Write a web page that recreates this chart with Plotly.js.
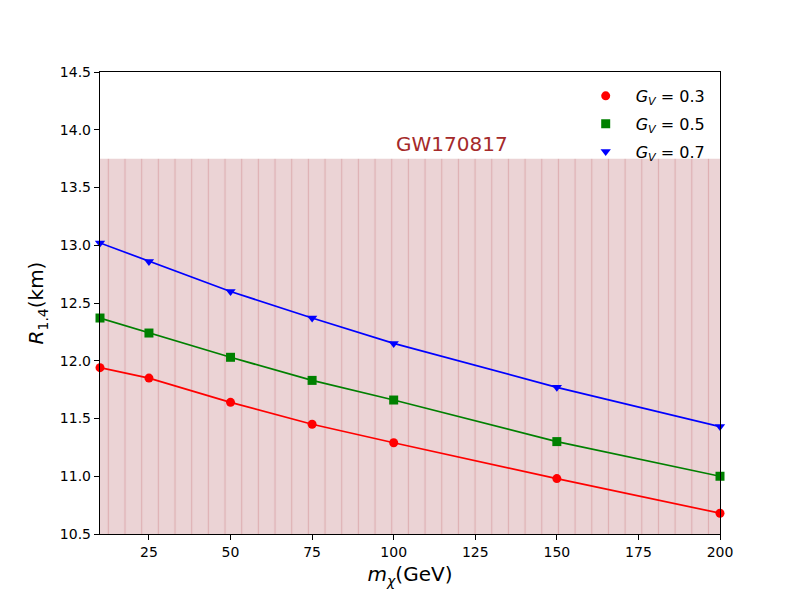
<!DOCTYPE html>
<html>
<head>
<meta charset="utf-8">
<script src="https://cdn.plot.ly/plotly-3.0.1.min.js"></script>
<style>
  body { margin: 0; background: #fff; }
  #graph { width: 800px; height: 600px; }
</style>
</head>
<body>
<div id="graph"></div>
<script>
// dark matter mass (GeV)
const mChi = [10, 25, 50, 75, 100, 150, 200];

// R_1.4 (km) for each G_V
const rGv03 = [11.94, 11.85, 11.64, 11.45, 11.29, 10.98, 10.68];
const rGv05 = [12.37, 12.24, 12.03, 11.83, 11.66, 11.30, 11.00];
const rGv07 = [13.02, 12.86, 12.60, 12.37, 12.15, 11.77, 11.43];

const gvLabels = ['0.3', '0.5', '0.7'];

// GW170817 upper bound band
const bandX = [10, 200];
const bandTop = [13.75, 13.75];
const bandLabel = 'GW170817';

const colors = ['red', 'green', 'blue'];
const symbols = ['circle', 'square', 'triangle-down'];
const series = [rGv03, rGv05, rGv07];

let data = [{
    x: bandX,
    y: bandTop,
    mode: 'lines',
    line: { width: 0 },
    fill: 'tozeroy',
    fillcolor: 'rgba(235,211,213,1)',
    fillpattern: {
        shape: '|',
        size: 16.67,
        solidity: 0.07,
        fgcolor: 'rgb(222,175,178)',
        bgcolor: 'rgb(235,211,213)'
    },
    showlegend: false,
    hoverinfo: 'skip'
}];

series.forEach(function(ys, i){
    data.push({
        x: mChi, y: ys,
        mode: 'lines',
        line: { color: colors[i], width: 1.7 },
        showlegend: false
    });
});
series.forEach(function(ys, i){
    data.push({
        x: mChi, y: ys,
        mode: 'markers',
        marker: { color: colors[i], symbol: symbols[i], size: 9 },
        name: '<i>G</i><sub><i>V</i></sub> = ' + gvLabels[i],
        legendgroup: 'g' + i,
        cliponaxis: false
    });
});

const axisStyle = {
    showline: true,
    mirror: true,
    linecolor: 'black',
    linewidth: 1.2,
    ticks: 'outside',
    ticklen: 5,
    tickcolor: 'black',
    showgrid: false,
    zeroline: false,
    tickfont: { size: 14, color: 'black' }
};

const layout = {
    width: 800,
    height: 600,
    margin: { l: 100, r: 80, t: 72, b: 66 },
    paper_bgcolor: 'white',
    plot_bgcolor: 'white',
    font: { family: 'DejaVu Sans', color: 'black' },
    xaxis: Object.assign({}, axisStyle, {
        range: [10, 200],
        tickvals: [25, 50, 75, 100, 125, 150, 175, 200],
        title: { text: '<i>m</i><sub><i>χ</i></sub>(GeV)', font: { size: 20 }, standoff: 8 }
    }),
    yaxis: Object.assign({}, axisStyle, {
        range: [10.5, 14.5],
        dtick: 0.5,
        tickformat: '.1f',
        title: { text: '<i>R</i><sub>1.4</sub>(km)', font: { size: 20 }, standoff: 10 }
    }),
    legend: {
        x: 0.985, y: 0.985,
        xanchor: 'right', yanchor: 'top',
        bgcolor: 'rgba(0,0,0,0)',
        font: { size: 16 },
        itemwidth: 50,
        tracegroupgap: 4
    },
    annotations: [{
        x: 100, y: 13.755,
        xref: 'x', yref: 'y',
        xanchor: 'left', yanchor: 'bottom',
        text: bandLabel,
        showarrow: false,
        font: { size: 20, color: '#a52a2a' }
    }]
};

Plotly.newPlot('graph', data, layout, { staticPlot: true });
</script>
</body>
</html>
